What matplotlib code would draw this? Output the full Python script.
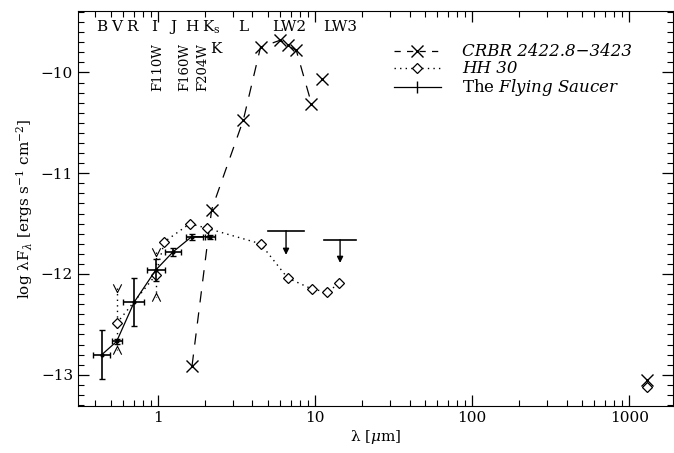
import matplotlib
matplotlib.use("Agg")
import matplotlib.pyplot as plt
from matplotlib.ticker import MultipleLocator, FixedLocator, NullFormatter, FixedFormatter
from matplotlib.lines import Line2D
from matplotlib.path import Path
import numpy as np

plt.rcParams["font.family"] = "DejaVu Serif"
plt.rcParams["mathtext.fontset"] = "dejavuserif"

# ---- CRBR 2422.8-3423 (dashed, crosses) ----
crbr_wl = [1.65, 2.2, 3.5, 4.5, 6.0, 6.7, 7.6, 9.5]
crbr_f = [-12.91, -11.36, -10.47, -9.75, -9.68, -9.73, -9.78, -10.31]
crbr_extra_wl = [11.1, 1300]
crbr_extra_f = [-10.06, -13.05]

# ---- HH 30 (dotted, diamonds) ----
hh_wl = [0.546, 0.97, 1.1, 1.6, 2.04, 4.5, 6.7, 9.6, 12.0, 14.3]
hh_f = [-12.49, -12.01, -11.68, -11.50, -11.545, -11.70, -12.04, -12.15, -12.18, -12.09]
hh_mm_wl = [1300]
hh_mm_f = [-13.12]
# variability ranges (top, bottom)
hh_rng_wl = [0.546, 0.97]
hh_rng_top = [-12.14, -11.78]
hh_rng_bot = [-12.75, -12.23]

# ---- The Flying Saucer (solid, error bars) ----
fs_wl = [0.44, 0.546, 0.706, 0.97, 1.25, 1.64, 2.14]
fs_f = [-12.80, -12.67, -12.28, -11.96, -11.78, -11.63, -11.63]
fs_xlo = [0.387, 0.507, 0.60, 0.847, 1.108, 1.51, 1.99]
fs_xhi = [0.495, 0.587, 0.82, 1.108, 1.40, 1.94, 2.31]
fs_yerr = [0.24, 0.02, 0.24, 0.107, 0.04, 0.03, 0.02]

# upper limits (ISO LW2, LW3)
ul_lo = [5.0, 11.4]
ul_hi = [8.56, 18.3]
ul_f = [-11.57, -11.66]
ul_tip = [-11.81, -11.89]

bands = ["B", "V", "R", "I", "J", "H", r"K$_{\rm s}$", "L", "LW2", "LW3"]
band_wl = [0.44, 0.55, 0.68, 0.95, 1.25, 1.65, 2.2, 3.5, 6.9, 14.5]
filters = ["F110W", "F160W", "F204W"]
filter_wl = [1.0, 1.49, 1.93]

# open chevrons for the variability range ends
VEE = Path([(-0.5, 0.5), (0, -0.5), (0.5, 0.5)], [Path.MOVETO, Path.LINETO, Path.LINETO])
WEDGE = Path([(-0.5, -0.5), (0, 0.5), (0.5, -0.5)], [Path.MOVETO, Path.LINETO, Path.LINETO])

fig = plt.figure(figsize=(6.74, 4.53), dpi=100)
ax = fig.add_axes([0.1157, 0.1038, 0.8828, 0.8719])
ax.set_xscale("log")
ax.set_xlim(0.31, 1900)
ax.set_ylim(-13.31, -9.39)

DASH = (0, (9, 8))
DOT = (0, (1, 3))

ax.plot(crbr_wl, crbr_f, color="black", lw=0.9, ls=DASH,
        marker="x", ms=8, mew=1.0)
ax.plot(crbr_extra_wl, crbr_extra_f, ls="none", color="black",
        marker="x", ms=8, mew=1.0)

ax.plot(hh_wl, hh_f, color="black", lw=1.0, ls=DOT,
        marker="D", ms=5.5, mfc="white", mec="black", mew=0.9)
ax.plot(hh_mm_wl, hh_mm_f, ls="none", marker="D", ms=5.5, mfc="white",
        mec="black", mew=0.9)
for w, t, b in zip(hh_rng_wl, hh_rng_top, hh_rng_bot):
    ax.plot([w, w], [t, b], color="black", lw=1.0, ls=DOT, zorder=1)
ax.plot(hh_rng_wl, hh_rng_top, ls="none", marker=VEE, ms=6, mfc="none",
        mec="black", mew=0.8)
ax.plot(hh_rng_wl, hh_rng_bot, ls="none", marker=WEDGE, ms=6, mfc="none",
        mec="black", mew=0.8)

xerr = [np.array(fs_wl) - np.array(fs_xlo), np.array(fs_xhi) - np.array(fs_wl)]
ax.errorbar(fs_wl, fs_f, xerr=xerr, yerr=fs_yerr, color="black", lw=0.9,
            elinewidth=1.2, capsize=2.5, marker="o", ms=2)

for lo, hi, f, tip in zip(ul_lo, ul_hi, ul_f, ul_tip):
    ax.plot([lo, hi], [f, f], color="black", lw=1.2)
    w = np.sqrt(lo * hi)
    ax.annotate("", xy=(w, tip), xytext=(w, f),
                arrowprops=dict(arrowstyle="-|>", color="black", lw=1.0,
                                mutation_scale=9, shrinkA=0, shrinkB=0))

for b, w in zip(bands, band_wl):
    ax.text(w, -9.55, b, ha="center", va="center", fontsize=11)
for f, w in zip(filters, filter_wl):
    ax.text(w, -9.71, f, ha="center", va="top", rotation=90, fontsize=9.5)
ax.text(2.33, -9.77, "K", ha="center", va="center", fontsize=11)

ax.xaxis.set_major_locator(FixedLocator([1, 10, 100, 1000]))
ax.xaxis.set_major_formatter(FixedFormatter(["1", "10", "100", "1000"]))
minors = [m * 10.0 ** e for e in range(-1, 4) for m in range(2, 10)]
ax.xaxis.set_minor_locator(FixedLocator(minors))
ax.xaxis.set_minor_formatter(NullFormatter())
ax.yaxis.set_major_locator(MultipleLocator(1))
ax.yaxis.set_minor_locator(MultipleLocator(0.1))
ax.tick_params(which="both", direction="in", top=True, right=True, labelsize=11)
ax.tick_params(which="major", length=8, width=0.9)
ax.tick_params(which="minor", length=4, width=0.8)
ax.yaxis.set_major_formatter(matplotlib.ticker.FuncFormatter(
    lambda v, p: "\u2212%d" % abs(v) if v < 0 else "%d" % v))

ax.set_xlabel(r"λ [$\mu$m]", fontsize=11, labelpad=2)
ax.set_ylabel(r"log λF$_\lambda$ [ergs s$^{-1}$ cm$^{-2}$]", fontsize=11, labelpad=4)

h1 = Line2D([], [], color="black", lw=0.9, ls=(0, (5, 5)), marker="x", ms=8, mew=1.0)
h2 = Line2D([], [], color="black", lw=1.0, ls=DOT, marker="D", ms=5.5,
            mfc="white", mec="black", mew=0.9)
h3 = Line2D([], [], color="black", lw=0.9, marker="|", ms=8, mew=1.0)
leg = ax.legend([h1, h2, h3],
                ["CRBR 2422.8\u22123423", "HH 30", r"The $\it{Flying\ Saucer}$"],
                loc="upper left", bbox_to_anchor=(0.52, 0.935), frameon=False,
                handlelength=2.8, handletextpad=1.3, labelspacing=0.0,
                fontsize=12, borderaxespad=0)
leg.get_texts()[0].set_style("italic")
leg.get_texts()[1].set_style("italic")

fig.savefig("out.png", dpi=100)
